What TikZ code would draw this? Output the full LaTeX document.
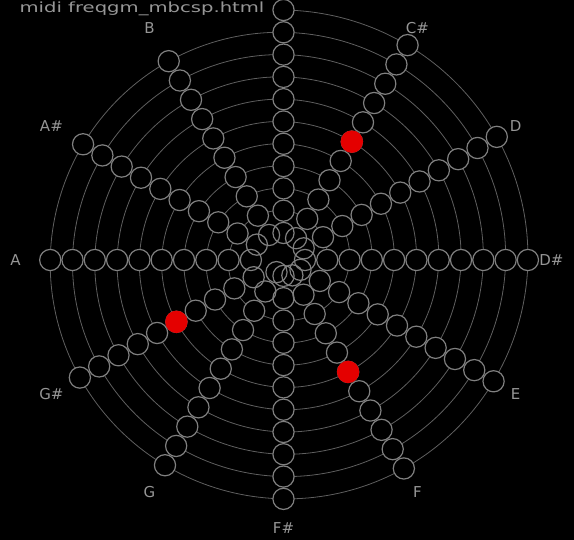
\documentclass[tikz,border=0pt]{standalone}
\usepackage{fontspec}
\setmainfont{DejaVu Sans}
\newfontfamily\titlefont[FakeStretch=1.4]{DejaVu Sans}
\usepackage{xcolor}
\definecolor{notegray}{RGB}{128,128,128}
\definecolor{spiralgray}{RGB}{95,95,95}
\definecolor{labelgray}{RGB}{150,150,150}
\definecolor{notered}{RGB}{228,0,0}

\begin{document}
\begin{tikzpicture}[x=1pt, y=-1pt,
    note/.style={circle, draw=notegray, line width=1.2pt, minimum size=21.2pt, inner sep=0pt},
    played/.style={note, fill=notered, draw=notered},
    pitch/.style={text=labelgray, font=\fontsize{15}{15}\selectfont},
]
\fill[black] (0,0) rectangle (574,540);
\useasboundingbox (0,0) rectangle (574,540);

% spiral through all midi notes
\draw[spiralgray, line width=0.8pt] plot[domain=0:127, samples=2541]
    ({283.5+(250-1.858*\x)*sin(30*\x)}, {260-(250-1.858*\x)*cos(30*\x)});

\foreach \n in {0,...,127}
    \fill[black] ({283.5+(250-1.858*\n)*sin(30*\n)}, {260-(250-1.858*\n)*cos(30*\n)}) circle (10.6);
\foreach \n in {0,...,127}
    \node[note] (n\n) at ({283.5+(250-1.858*\n)*sin(30*\n)}, {260-(250-1.858*\n)*cos(30*\n)}) {};
\foreach \n in {61,65,68}
    \node[played] (hit\n) at (n\n) {};

% pitch names
\foreach \k/\name in {1/C\#, 2/D, 3/D\#, 4/E, 5/F, 6/F\#, 7/G, 8/G\#, 9/A, 10/A\#, 11/B}
    \node[pitch] (lab\k) at ({283.5+268*sin(30*\k)}, {260-268*cos(30*\k)}) {\name};

\node[anchor=base west, text=labelgray, font=\titlefont\fontsize{14}{14}\selectfont] (title) at (16,13) {midi freqgm\_mbcsp.html};
\end{tikzpicture}
\end{document}
